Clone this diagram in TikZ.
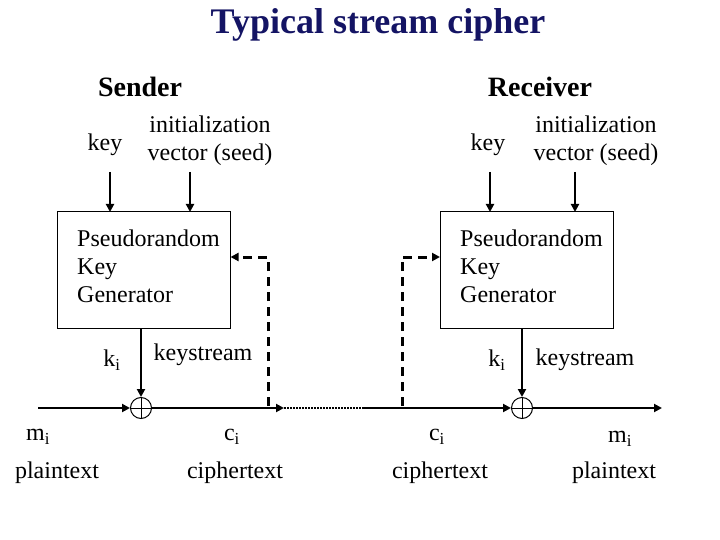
\documentclass[tikz,border=0pt]{standalone}
\usepackage{fontspec}
\setmainfont{Liberation Serif}
\usetikzlibrary{arrows.meta}
\begin{document}
\begin{tikzpicture}[x=1pt,y=-1pt,
  txt/.style={font=\fontsize{24}{28}\selectfont,inner sep=0pt},
  hd/.style={font=\bfseries\fontsize{28}{32}\selectfont,inner sep=0pt},
  box/.style={draw,line width=1pt,minimum width=173pt,minimum height=116pt,inner sep=0pt},
  arr/.style={line width=2.6pt,-{Triangle[length=8pt,width=8pt]}},
  dsh/.style={line width=3pt,dash pattern=on 9pt off 6pt,-{Triangle[length=8pt,width=8pt]}},
  xor/.style={circle,draw,line width=1pt,minimum size=21pt,inner sep=0pt,path picture={\draw[line width=1pt] (path picture bounding box.north)--(path picture bounding box.south) (path picture bounding box.west)--(path picture bounding box.east);}}]
\useasboundingbox (0,0) rectangle (720,540);
\node[font=\bfseries\fontsize{36}{40}\selectfont,text={rgb,255:red,20;green,20;blue,100}] (title) at (378,25) {Typical stream cipher};
\node[hd] (snd) at (140,87) {Sender};
\node[hd] (rcv) at (540,87) {Receiver};
\node[box] (b1) at (143.5,270) {};
\node[box] (b2) at (527,270) {};
\node[txt,align=left,anchor=north west] (t1) at (77,230) {Pseudorandom\\Key\\Generator};
\node[txt,align=left,anchor=north west] (t2) at (460,230) {Pseudorandom\\Key\\Generator};
\node[txt] (k1) at (105,145) {key};
\node[txt,align=center] (iv1) at (210,141) {initialization\\vector (seed)};
\node[txt] (k2) at (488,145) {key};
\node[txt,align=center] (iv2) at (596,141) {initialization\\vector (seed)};
\coordinate (k1s) at (110,172); \coordinate (k1e) at (110,212);
\coordinate (i1s) at (190,172); \coordinate (i1e) at (190,212);
\coordinate (k2s) at (490,172); \coordinate (k2e) at (490,212);
\coordinate (i2s) at (575,172); \coordinate (i2e) at (575,212);
\draw[arr] (k1s)--(k1e); \draw[arr] (i1s)--(i1e);
\draw[arr] (k2s)--(k2e); \draw[arr] (i2s)--(i2e);
\node[xor] (x1) at (141,408) {};
\node[xor] (x2) at (522,408) {};
\draw[arr] (141,328)--(x1);
\draw[arr] (522,328)--(x2);
\coordinate (st) at (38,408); \coordinate (d1) at (284,408); \coordinate (d2) at (363,408);
\coordinate (en) at (662,408);
\draw[arr] (st)--(x1);
\draw[arr] (x1)--(d1);
\draw[line width=2.6pt,dash pattern=on 2pt off 1pt] (d1)--(d2);
\draw[arr] (d2)--(x2);
\draw[arr] (x2)--(en);
\draw[dsh] (268,406)--(268,257)--(b1.east|-0,257);
\draw[dsh] (402,406)--(402,257)--(b2.west|-0,257);
\node[txt] (ki1) at (112,360) {k\textsubscript{i}};
\node[txt] (ks1) at (203,355) {keystream};
\node[txt] (ki2) at (497,360) {k\textsubscript{i}};
\node[txt] (ks2) at (585,360) {keystream};
\node[txt] (m1) at (38,437) {m\textsubscript{i}};
\node[txt] (p1) at (57,473) {plaintext};
\node[txt] (c1) at (232,437) {c\textsubscript{i}};
\node[txt] (ct1) at (235,473) {ciphertext};
\node[txt] (c2) at (437,437) {c\textsubscript{i}};
\node[txt] (ct2) at (440,473) {ciphertext};
\node[txt] (m2) at (620,439) {m\textsubscript{i}};
\node[txt] (p2) at (614,473) {plaintext};
\end{tikzpicture}
\end{document}
